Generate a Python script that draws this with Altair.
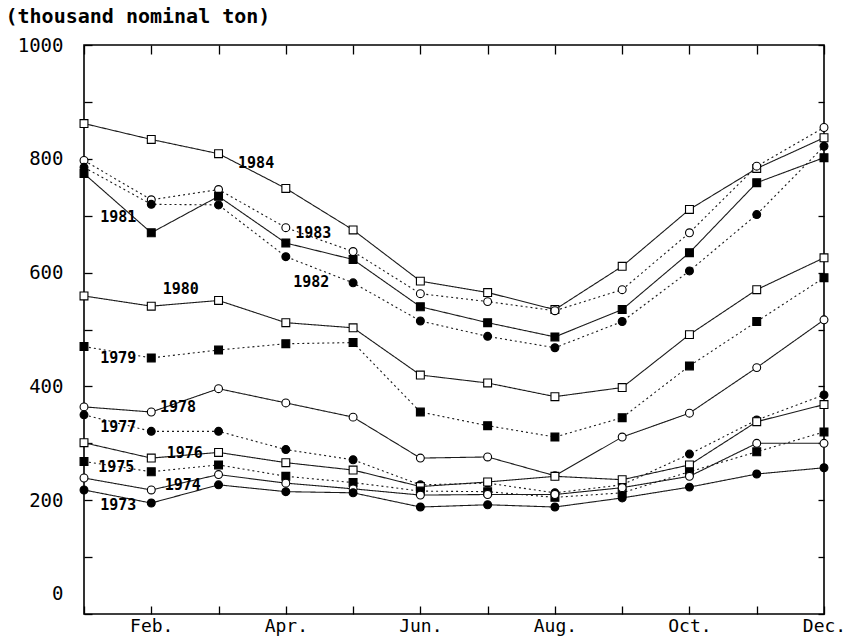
import altair as alt
import pandas as pd

# ---------------- data ----------------
months = list(range(1, 13))
month_names = ["Jan.", "Feb.", "Mar.", "Apr.", "May", "Jun.",
               "Jul.", "Aug.", "Sep.", "Oct.", "Nov.", "Dec."]

years = [1984, 1983, 1982, 1981, 1980, 1979, 1978, 1977, 1976, 1975, 1974, 1973]

v1984 = [862, 834, 809, 748, 675, 585, 565, 535, 611, 711, 783, 837]
v1983 = [797, 728, 746, 679, 637, 563, 549, 533, 570, 670, 787, 855]
v1982 = [785, 720, 719, 628, 582, 515, 488, 468, 514, 603, 702, 822]
v1981 = [774, 670, 734, 652, 623, 540, 512, 487, 535, 635, 758, 802]
v1980 = [559, 541, 551, 512, 503, 420, 406, 382, 398, 491, 570, 626]
v1979 = [470, 450, 464, 475, 477, 355, 331, 311, 345, 436, 514, 591]
v1978 = [364, 355, 396, 371, 346, 274, 276, 243, 311, 353, 433, 517]
v1977 = [350, 321, 321, 289, 271, 227, 230, 213, 227, 281, 341, 385]
v1976 = [301, 274, 284, 266, 253, 224, 232, 242, 236, 262, 338, 368]
v1975 = [268, 250, 262, 242, 231, 216, 215, 205, 213, 250, 285, 320]
v1974 = [239, 218, 245, 230, 220, 209, 210, 210, 222, 242, 300, 300]
v1973 = [218, 195, 227, 215, 213, 188, 192, 188, 204, 223, 246, 257]

series_values = [v1984, v1983, v1982, v1981, v1980, v1979,
                 v1978, v1977, v1976, v1975, v1974, v1973]

markers = ["open_square", "open_circle", "filled_circle", "filled_square",
           "open_square", "filled_square", "open_circle", "filled_circle",
           "open_square", "filled_square", "open_circle", "filled_circle"]
line_styles = ["solid", "dotted", "dotted", "solid",
               "solid", "dotted", "solid", "dotted",
               "solid", "dotted", "solid", "solid"]

# year label anchor (month position, value)
label_month = [3.29, 4.14, 4.11, 1.24, 2.17, 1.24, 2.13, 1.24, 2.23, 1.21, 2.20, 1.24]
label_value = [793, 670, 584, 698, 572, 450, 364, 329, 283, 259, 227, 192]

y_ticks = list(range(0, 1001, 100))

# ---------------- tables ----------------
rows = []
for yr, vals, mk, ls in zip(years, series_values, markers, line_styles):
    for m, v in zip(months, vals):
        rows.append({"year": str(yr), "month": m, "value": v, "marker": mk, "style": ls})
df = pd.DataFrame(rows)

labels_df = pd.DataFrame({"year": [str(y) for y in years],
                          "month": label_month, "value": label_value})

# ---------------- encodings ----------------
FONT = "DejaVu Sans Mono"
xscale = alt.Scale(domain=[1, 12], nice=False, zero=False)
yscale = alt.Scale(domain=[0, 1000], nice=False, zero=True)

names_js = "[" + ",".join("'" + n + "'" for n in month_names) + "]"

x_bottom = alt.Axis(
    values=months, domain=False, grid=False, title=None,
    ticks=True, tickSize=8, offset=-8, tickColor="black", tickWidth=1.3,
    labelExpr="datum.value % 2 == 0 ? " + names_js + "[datum.value - 1] : ''",
    labelFont=FONT, labelFontSize=18, labelColor="black", labelPadding=3,
    labelFlush=False, labelOverlap=False,
)
y_left = alt.Axis(
    values=y_ticks, domain=False, grid=False,
    ticks=True, tickSize=8, offset=-8, tickColor="black", tickWidth=1.3,
    labelExpr="datum.value % 200 == 0 ? format(datum.value, 'd') : ''",
    labelFont=FONT, labelFontSize=19, labelColor="black", labelPadding=21,
    labelFlush=False, labelOverlap=False,
    labelOffset={"condition": {"test": "datum.value === 0", "value": -21}, "value": 0},
    title="(thousand nominal ton)", titleAngle=0, titleAlign="left",
    titleBaseline="alphabetic", titleX=-87, titleY=-23,
    titleFont=FONT, titleFontSize=20, titleFontWeight="bold", titleColor="black",
)
x_top = alt.Axis(
    orient="top", values=months, domain=False, grid=False, title=None,
    labels=False, ticks=True, tickSize=9, offset=-9, tickColor="black", tickWidth=1.3,
)
y_right = alt.Axis(
    orient="right", values=y_ticks, domain=False, grid=False, title=None,
    labels=False, ticks=True, tickSize=6, offset=-6, tickColor="black", tickWidth=1.3,
)

lines = alt.Chart(df).mark_line(color="#1a1a1a", strokeWidth=1.1).encode(
    x=alt.X("month:Q", scale=xscale, axis=x_bottom),
    y=alt.Y("value:Q", scale=yscale, axis=y_left),
    detail="year:N",
    strokeDash=alt.StrokeDash(
        "style:N",
        scale=alt.Scale(domain=["solid", "dotted"], range=[[1, 0], [2, 3]]),
        legend=None,
    ),
)

points = alt.Chart(df).mark_point(
    filled=True, stroke="black", strokeWidth=1.1, size=62, opacity=1
).encode(
    x=alt.X("month:Q", scale=xscale, axis=x_top),
    y=alt.Y("value:Q", scale=yscale, axis=y_right),
    shape=alt.Shape(
        "marker:N",
        scale=alt.Scale(domain=["open_square", "open_circle", "filled_square", "filled_circle"],
                        range=["square", "circle", "square", "circle"]),
        legend=None,
    ),
    fill=alt.Fill(
        "marker:N",
        scale=alt.Scale(domain=["open_square", "open_circle", "filled_square", "filled_circle"],
                        range=["white", "white", "black", "black"]),
        legend=None,
    ),
)

texts = alt.Chart(labels_df).mark_text(
    align="left", baseline="middle", font=FONT, fontSize=15,
    fontWeight="bold", color="black"
).encode(
    x=alt.X("month:Q", scale=xscale, axis=None),
    y=alt.Y("value:Q", scale=yscale, axis=None),
    text="year:N",
)

chart = alt.layer(lines, points, texts).resolve_axis(
    x="independent", y="independent"
).resolve_scale(
    shape="independent", fill="independent"
).properties(
    width=740, height=569,
    padding={"left": 84, "top": 45, "right": 27, "bottom": 24},
    autosize="none",
    background="white",
).configure_view(
    stroke="black", strokeWidth=1.6
)

chart.save("out.html", embed_options={"renderer": "svg", "actions": False})
